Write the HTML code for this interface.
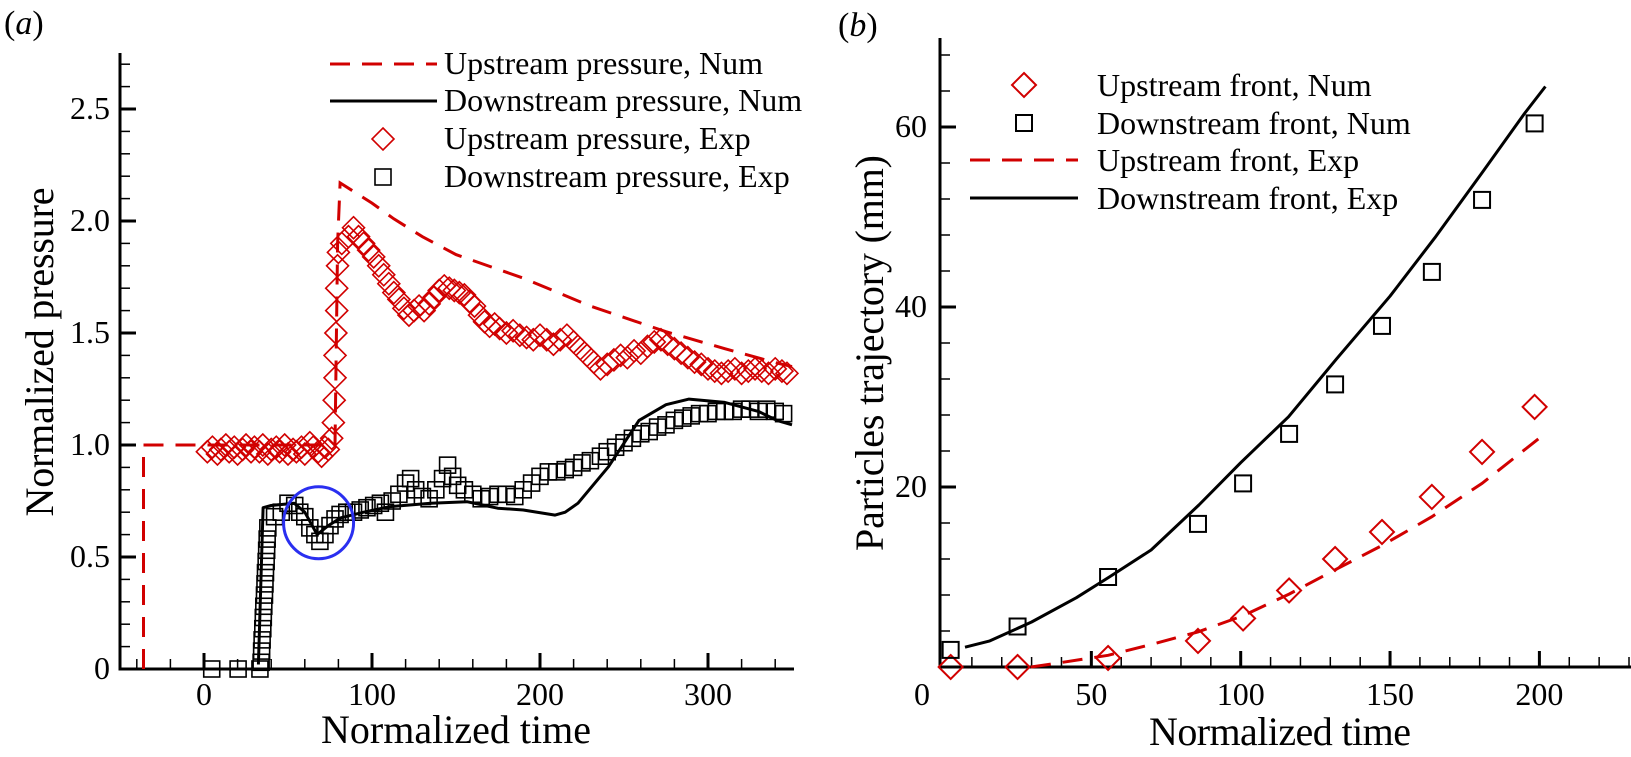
<!DOCTYPE html>
<html><head><meta charset="utf-8"><style>
html,body{margin:0;padding:0;background:#fff;}
svg{display:block;}
svg text{font-family:"Liberation Serif","Times New Roman","DejaVu Serif",serif;}
</style></head><body>
<svg id="fig" width="1631" height="757" viewBox="0 0 1631 757" xmlns="http://www.w3.org/2000/svg" font-family="Liberation Serif, Times New Roman, DejaVu Serif, serif">
<g id="pa"></g>
<g id="pb"></g>
</svg>
<script>
// ---------- Panel (a) data ----------
const aUpNumX = [-36,-36,78,79.5,81,100,113,130,150,190,230,275,310,341,350];
const aUpNumY = [0,1.0,1.0,1.9,2.17,2.08,2.01,1.93,1.85,1.745,1.62,1.506,1.43,1.366,1.35];
const aDnNumX = [32.4,35.2,40,53.7,60,67.4,74,81.4,95,110.7,135,156.5,174.8,190,209,215,222.6,240.8,258.9,275,288.7,310,330,341,350];
const aDnNumY = [0.02,0.72,0.73,0.74,0.7,0.6,0.64,0.675,0.7,0.725,0.74,0.747,0.718,0.71,0.687,0.7,0.74,0.903,1.11,1.18,1.205,1.19,1.15,1.11,1.09];
const aUpExpX = [2,5,8,10,13,15,18,20,23,25,28,30,33,35,38,40,43,45,48,50,53,55,58,60,63,65,68,70,72,74,76,77,77.5,78,78,78.5,79,79,79.5,80,82,86,89,92,95,98,101,104,107,110,113,116,119,122,125,128,131,134,137,140,143,146,149,152,155,158,161,164,167,170,173,176,180,184,188,192,196,200,204,208,212,216,220,224,228,232,236,240,244,248,252,256,260,264,268,272,276,280,284,288,292,296,300,304,308,312,316,320,324,328,332,336,340,344,347];
const aUpExpY = [0.97,0.99,0.96,0.98,1.0,0.97,0.99,0.96,0.98,1.0,0.97,0.99,0.97,1.0,0.96,0.98,0.99,0.97,1.0,0.96,0.98,0.97,0.99,0.96,1.01,0.99,0.97,0.95,0.99,0.98,1.03,1.1,1.2,1.3,1.4,1.5,1.6,1.7,1.8,1.86,1.9,1.93,1.97,1.93,1.9,1.87,1.84,1.8,1.76,1.72,1.68,1.65,1.61,1.58,1.6,1.62,1.6,1.63,1.66,1.69,1.71,1.7,1.69,1.68,1.67,1.64,1.62,1.58,1.55,1.53,1.54,1.52,1.5,1.51,1.49,1.48,1.47,1.49,1.47,1.45,1.47,1.49,1.46,1.43,1.4,1.37,1.34,1.36,1.38,1.4,1.39,1.42,1.41,1.44,1.46,1.47,1.45,1.43,1.41,1.39,1.37,1.36,1.34,1.33,1.32,1.33,1.34,1.32,1.33,1.34,1.33,1.32,1.34,1.33,1.32,1.31,1.3];
const aDnExpX = [4.6,20.3,33.3,34,34.3,34.6,35,35.3,35.6,36,36.3,36.6,37,37.3,37.6,38,42,46,50,54,57,60,63,66,69,72,75,78,81,85,89,93,97,101,105,108,112,116,120,123,126,130,134,138,142,145,148,151,155,160,165,170,175,180,185,190,195,200,205,210,215,220,225,230,236,240,245,250,255,260,265,270,275,280,285,290,295,300,305,310,315,320,325,330,335,340,345];
const aDnExpY = [0,0,0,0.03,0.08,0.13,0.18,0.23,0.28,0.33,0.38,0.43,0.48,0.53,0.58,0.63,0.68,0.7,0.74,0.73,0.7,0.68,0.63,0.6,0.57,0.6,0.64,0.67,0.69,0.7,0.7,0.71,0.72,0.73,0.74,0.7,0.75,0.78,0.83,0.85,0.8,0.77,0.76,0.8,0.85,0.91,0.86,0.82,0.8,0.78,0.76,0.77,0.78,0.78,0.77,0.8,0.83,0.86,0.88,0.88,0.89,0.9,0.92,0.93,0.95,0.97,0.99,1.01,1.03,1.05,1.06,1.08,1.09,1.11,1.12,1.13,1.14,1.14,1.15,1.15,1.15,1.16,1.16,1.15,1.16,1.15,1.14,1.12];
const aXTicks = [0,100,200,300];
const aYTicks = [0,0.5,1.0,1.5,2.0,2.5];
const aYTickLabels = ["0","0.5","1.0","1.5","2.0","2.5"];
const aCircle = [68.2,0.653];

// ---------- Panel (b) data ----------
const bTime = [2.9,25.3,55.6,85.7,100.8,116.2,131.6,147.3,164,180.8,198.4];
const bDnNum = [1.9,4.5,10,15.9,20.4,25.9,31.4,37.9,43.9,51.9,60.4];
const bUpNum = [0,0,1.0,2.9,5.4,8.5,12,15,18.9,23.9,28.9];
const bDnExpX = [7.7,16,30,45,56,70,86,100,116,132,150,165,181,195,202];
const bDnExpY = [2.2,2.9,5.0,7.7,10,13,18,22.7,27.8,34.2,41.2,47.7,55,61.5,64.5];
const bUpExpX = [29.8,40,55.6,70,85.7,100.8,116.2,131.6,147.3,164,180.8,201];
const bUpExpY = [0,0.5,1.3,2.5,3.9,5.7,8.1,10.8,13.5,16.7,20.4,25.7];
const bXTicks = [0,50,100,150,200];
const bYTicks = [20,40,60];

const NS = "http://www.w3.org/2000/svg";
const RED = "#d10000";
function mk(parent, tag, attrs, text){
  const e = document.createElementNS(NS, tag);
  for (const k in attrs) e.setAttribute(k, attrs[k]);
  if (text !== undefined) e.textContent = text;
  parent.appendChild(e);
  return e;
}
const ax = v => 204 + v*1.68;
const ay = v => 669 - v*224;
const bx = v => 942 + v*2.987;
const by = v => 667 - v*9.0;

function diamond(g, x, y, r, w){
  return mk(g,"path",{d:`M${x} ${y-r}L${x+r} ${y}L${x} ${y+r}L${x-r} ${y}Z`,fill:"none",stroke:RED,"stroke-width":w});
}
function square(g, x, y, h, w){
  return mk(g,"rect",{x:x-h,y:y-h,width:2*h,height:2*h,fill:"none",stroke:"#000","stroke-width":w});
}
function pathFrom(xs, ys, fx, fy){
  return xs.map((v,i)=>(i?"L":"M")+fx(v).toFixed(1)+" "+fy(ys[i]).toFixed(1)).join("");
}

// ================= Panel A =================
const A = document.getElementById("pa");
let t;
t = mk(A,"text",{x:4,y:34,"font-size":34});


t.innerHTML = '(<tspan font-style="italic">a</tspan>)';

let axA = mk(A,"path",{d:`M120 53V669H794`,fill:"none",stroke:"#000","stroke-width":3});


const tkA = mk(A,"g",{stroke:"#000"});


for (let v=-40; v<=350; v+=20){
  const major = aXTicks.includes(v);
  mk(tkA,"line",{x1:ax(v),x2:ax(v),y1:669,y2:669-(major?16:10),"stroke-width":major?3:1.5});
}
for (let i=1;i<=27;i++){
  const v=i/10, major = i%5===0;
  mk(tkA,"line",{x1:120,x2:120+(major?16:10),y1:ay(v),y2:ay(v),"stroke-width":major?3:1.5});
}
aXTicks.forEach(v=>{
  const e = mk(A,"text",{x:ax(v),y:705,"font-size":32,"text-anchor":"middle"},String(v));
  
  
});
aYTicks.forEach((v,i)=>{
  const e = mk(A,"text",{x:110,y:ay(v)+10,"font-size":32,"text-anchor":"end"},aYTickLabels[i]);
  
  
});
t = mk(A,"text",{x:456,y:743,"font-size":40,"text-anchor":"middle"},"Normalized time");


t = mk(A,"text",{x:0,y:0,"font-size":40,"text-anchor":"middle",transform:"translate(53,352) rotate(-90)",textLength:329},"Normalized pressure");



const gUpExp = mk(A,"g",{});


aUpExpX.forEach((v,i)=>{ const d=diamond(gUpExp, ax(v), ay(aUpExpY[i]), 11, 1.6);
  
   });
const gDnExp = mk(A,"g",{});


aDnExpX.forEach((v,i)=>{ const s=square(gDnExp, ax(v), ay(aDnExpY[i]), 8, 1.6);
  
   });
let l = mk(A,"path",{d:pathFrom(aUpNumX,aUpNumY,ax,ay),fill:"none",stroke:RED,"stroke-width":3,"stroke-dasharray":"20 12"});


l = mk(A,"path",{d:pathFrom(aDnNumX,aDnNumY,ax,ay),fill:"none",stroke:"#000","stroke-width":3,"stroke-linejoin":"round"});


l = mk(A,"ellipse",{cx:ax(aCircle[0]),cy:ay(aCircle[1]),rx:35,ry:36,fill:"none",stroke:"#2a2ff0","stroke-width":3});



const LA = mk(A,"g",{"font-size":32});


const legA = ["Upstream pressure, Num","Downstream pressure, Num","Upstream pressure, Exp","Downstream pressure, Exp"];
const legAy = [64,101,139,177];
legA.forEach((s,i)=>{
  const e = mk(LA,"text",{x:444,y:legAy[i]+10},s);
  
  
});
mk(LA,"line",{x1:330,x2:437,y1:64,y2:64,stroke:RED,"stroke-width":3,"stroke-dasharray":"20 12"});
mk(LA,"line",{x1:330,x2:437,y1:101,y2:101,stroke:"#000","stroke-width":3});
diamond(LA,383,139,11,1.6);
square(LA,383,177,8,1.6);

// ================= Panel B =================
const B = document.getElementById("pb");
t = mk(B,"text",{x:838,y:36,"font-size":34});


t.innerHTML = '(<tspan font-style="italic">b</tspan>)';
let axB = mk(B,"path",{d:`M940 38V667H1631`,fill:"none",stroke:"#000","stroke-width":3});


const tkB = mk(B,"g",{stroke:"#000"});


for (let v=10; v<=230; v+=10){
  const major = v%50===0;
  mk(tkB,"line",{x1:bx(v),x2:bx(v),y1:667,y2:667-(major?16:10),"stroke-width":major?3:1.5});
}
for (let v=4; v<=68; v+=4){
  const major = v%20===0;
  mk(tkB,"line",{x1:940,x2:940+(major?16:10),y1:by(v),y2:by(v),"stroke-width":major?3:1.5});
}
bXTicks.forEach(v=>{
  const e = mk(B,"text",{x:v===0?922:bx(v),y:705,"font-size":32,"text-anchor":"middle"},String(v));
  
  
});
bYTicks.forEach(v=>{
  const e = mk(B,"text",{x:927,y:by(v)+10,"font-size":32,"text-anchor":"end"},String(v));
  
  
});
t = mk(B,"text",{x:1280,y:745,"font-size":40,"text-anchor":"middle",textLength:262},"Normalized time");


t = mk(B,"text",{x:0,y:0,"font-size":40,"text-anchor":"middle",transform:"translate(883,353) rotate(-90)",textLength:396},"Particles trajectory (mm)");



l = mk(B,"path",{d:pathFrom(bDnExpX,bDnExpY,bx,by),fill:"none",stroke:"#000","stroke-width":3,"stroke-linejoin":"round"});


l = mk(B,"path",{d:pathFrom(bUpExpX,bUpExpY,bx,by),fill:"none",stroke:RED,"stroke-width":3,"stroke-dasharray":"20 12"});


const gBD = mk(B,"g",{});


bTime.forEach((v,i)=>{ const d=diamond(gBD,bx(v),by(bUpNum[i]),12,2);
  
   });
const gBS = mk(B,"g",{});


bTime.forEach((v,i)=>{ const s=square(gBS,bx(v),by(bDnNum[i]),8,2);
  
   });

const LB = mk(B,"g",{"font-size":32});


const legB = ["Upstream front, Num","Downstream front, Num","Upstream front, Exp","Downstream front, Exp"];
const legBy = [85,123,160,198];
legB.forEach((s,i)=>{
  const e = mk(LB,"text",{x:1097,y:legBy[i]+11},s);
  
  
});
diamond(LB,1024,85,12,2);
square(LB,1024,123,8,2);
mk(LB,"line",{x1:970,x2:1078,y1:160,y2:160,stroke:RED,"stroke-width":3,"stroke-dasharray":"20 12"});
mk(LB,"line",{x1:970,x2:1078,y1:198,y2:198,stroke:"#000","stroke-width":3});
</script>
</body></html>
